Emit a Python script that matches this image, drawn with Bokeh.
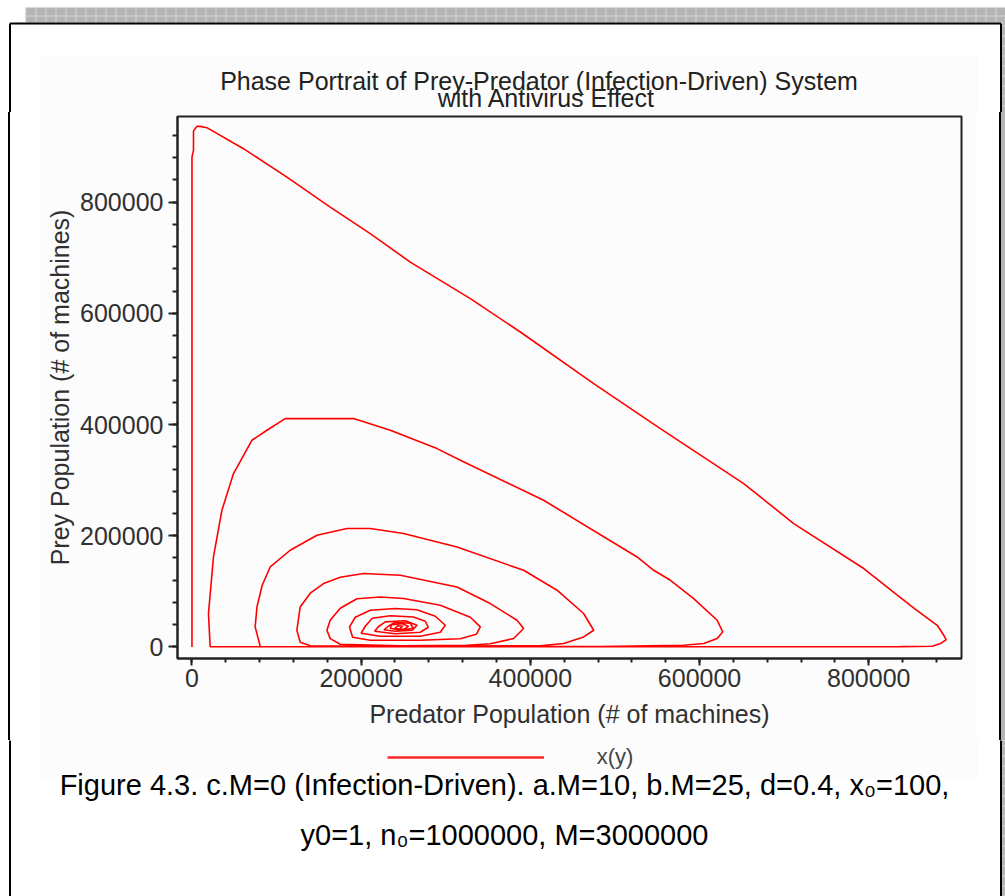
from bokeh.plotting import figure
from bokeh.layouts import column, row
from bokeh.models import (Range1d, FixedTicker, BasicTickFormatter, Label,
                          Legend, LegendItem)
from bokeh.embed import file_html
from bokeh.resources import INLINE

# ---------------- data ----------------
predator = [
    100, 100, 100, 100, 100, 1900, 1900, 5900, 9800, 17700,
    61000, 112300, 163500, 210800, 258100, 329100, 388200, 474900, 553700,
    652200, 711300, 794100, 829600, 855200, 880900, 888700, 891500, 884800,
    875000, 837500, 482800, 27600, 21600,
    19600, 25500, 35500, 49200, 70900, 88700, 110300, 191100, 234500, 289700,
    317300, 415700, 526200, 545800, 565600, 593100, 620800, 627400, 620800,
    604900, 581300, 482800, 86700, 80800,
    74800, 76900, 83100, 92600, 116200, 147800, 183300, 210800, 250200,
    313300, 392100, 431600, 463000, 474900, 463000, 439400, 411800, 246300,
    139900,
    128000, 124100, 128000, 139900, 155600, 175300, 202900, 246300, 313300,
    352700, 384300, 392100, 380300, 352700, 325200, 246300, 175300,
    163500, 159600, 163500, 175300, 195100, 222600, 250200, 293600, 329100,
    340900, 336200, 317200, 269900, 210800, 190000,
    186300, 193100, 210800, 240400, 266000, 287700, 299500, 293600, 269900,
    222600, 200000,
    204900, 213200, 234500, 261700, 275900, 279400, 269900, 240400, 216000,
    220300, 228600, 252200, 266000, 260500, 240400, 227000,
    232100, 240400, 258100, 261700, 246300, 234500, 236000, 248000, 256000,
    250000, 240000, 243000, 249000, 247000, 246300,
]
prey = [
    1, 84000, 443700, 803000, 881000, 893000, 927800, 936200, 936200, 933900,
    896100, 845100, 791100, 743300, 692200, 626400, 566400, 473600, 392700,
    293800, 221900, 141000, 98300, 67700, 38900, 20900, 13300, 6100,
    1300, 500, 300, 300, 500,
    60000, 161800, 245800, 311800, 371700, 389700, 410700, 410700, 389700,
    356700, 335700, 263800, 161800, 137900, 119900, 87000, 48000, 27000,
    15100, 6100, 3100, 700, 400, 700,
    36000, 71900, 110900, 143800, 173900, 200800, 212900, 212900, 203900,
    179800, 137900, 102000, 60100, 30000, 18000, 6100, 2200, 1300,
    2200,
    8500, 30000, 71900, 96600, 114000, 125300, 132000, 128900, 107900,
    78000, 48000, 33100, 15100, 5800, 3100, 2200, 4900,
    15000, 30000, 48000, 69600, 86700, 89900, 87000, 75000, 53400,
    36000, 22800, 14700, 12000, 12000, 17400,
    36000, 53400, 66000, 69000, 66900, 55200, 39000, 26400, 19200,
    19200, 24600,
    37200, 51600, 56100, 53900, 46200, 35400, 26400, 23700, 28200,
    36300, 45000, 47100, 39000, 30000, 28200, 30900,
    37200, 44400, 42600, 33600, 30000, 33600, 40000, 42000, 37000,
    31500, 33000, 38000, 37500, 34000, 35400,
]

x_ticks = [0, 200000, 400000, 600000, 800000]
y_ticks = [0, 200000, 400000, 600000, 800000]
x_minor = [40000 * k for k in range(0, 23)]
y_minor = [40000 * k for k in range(0, 24)]

title_line1 = "Phase Portrait of Prey-Predator (Infection-Driven) System"
title_line2 = "with Antivirus Effect"
x_label = "Predator Population (# of machines)"
y_label = "Prey Population (# of machines)"
series_name = "x(y)"
caption_line1 = "Figure 4.3. c.M=0 (Infection-Driven). a.M=10, b.M=25, d=0.4, x\u2080=100,"
caption_line2 = "y0=1, n\u2080=1000000, M=3000000"

# ---------------- page layout (pixels) ----------------
W, H = 1005, 896
PANEL_L, PANEL_R, PANEL_T, PANEL_B = 40, 977, 55, 777
FL, FR, FT, FB = 177, 961, 116, 658          # chart frame on the page
TOP_H = 112                                   # header strip height
MID_B = 740                                   # bottom of the chart figure
FONT = "Liberation Sans"
PANEL_BG = "#fcfcfc"
BAND = "#b4b4b4"
CURVE = "#ff0000"


def page_figure(x0, x1, y0, y1):
    """A figure without axes whose frame covers page region [x0,x1]x[y0,y1]."""
    f = figure(width=x1 - x0, height=y1 - y0,
               x_range=Range1d(x0, x1), y_range=Range1d(y1, y0),
               output_backend="svg", toolbar_location=None,
               x_axis_location=None, y_axis_location=None,
               min_border=0)
    f.min_border_left = f.min_border_right = 0
    f.min_border_top = f.min_border_bottom = 0
    f.grid.visible = False
    f.outline_line_color = None
    f.background_fill_color = "white"
    f.border_fill_color = "white"
    # light panel behind the pasted chart
    f.quad(left=[PANEL_L], right=[PANEL_R], top=[PANEL_T], bottom=[PANEL_B],
           fill_color=PANEL_BG, line_alpha=0)
    # hatched grey band on top and on the right edge
    f.quad(left=[25, 1001.5], right=[1006, 1006], top=[7, 22], bottom=[22, H + 10],
           fill_color=BAND, line_alpha=0,
           hatch_pattern="+", hatch_color="#d6d6d6", hatch_scale=10, hatch_weight=1)
    # black text-box frame (open at the bottom)
    f.segment(x0=[9.5, 1000.5, 9.5], y0=[23, 23, 23],
              x1=[9.5, 1000.5, 1000.5], y1=[H + 10, H + 10, 23],
              line_color="black", line_width=2)
    return f


def page_label(f, text, x, baseline, size_px, color):
    f.add_layout(Label(x=x, y=baseline - 0.35 * size_px, text=text,
                       text_align="center", text_baseline="middle",
                       text_font=FONT, text_font_size=f"{size_px}px",
                       text_color=color))


# header: band, box top, title
top = page_figure(0, W, 0, TOP_H)
page_label(top, title_line1, 538.5, 89.3, 25, "#222222")
page_label(top, title_line2, 546, 106.5, 25, "#222222")

# ---------------- the chart ----------------
p = figure(width=W, height=MID_B - TOP_H,
           x_range=Range1d(-17000, 909600), y_range=Range1d(-20800, 954000),
           output_backend="svg", toolbar_location=None,
           min_border_left=FL, min_border_right=W - FR,
           min_border_top=FT - TOP_H, min_border_bottom=MID_B - FB)
p.grid.visible = False
p.background_fill_color = PANEL_BG
p.border_fill_alpha = 0
p.outline_line_color = "#222222"
p.outline_line_width = 2
# page behind the chart: box sides, light panel, hatched right edge
p.styles = {"background": (
    "linear-gradient(to right, #ffffff 0px, #ffffff 8.5px, #000000 8.5px, "
    "#000000 10.5px, #ffffff 10.5px, #ffffff 40px, #fcfcfc 40px, #fcfcfc 977px, "
    "#ffffff 977px, #ffffff 999.5px, #000000 999.5px, #000000 1001.5px, "
    "#b4b4b4 1001.5px, #b4b4b4 1005px)")}

for ax, ticks, minor in ((p.xaxis[0], x_ticks, x_minor), (p.yaxis[0], y_ticks, y_minor)):
    ax.ticker = FixedTicker(ticks=ticks, minor_ticks=minor)
    ax.formatter = BasicTickFormatter(use_scientific=False)
    ax.axis_line_color = "#222222"
    ax.axis_line_width = 2
    ax.major_tick_line_color = "#222222"
    ax.major_tick_line_width = 2
    ax.minor_tick_line_color = "#222222"
    ax.minor_tick_line_width = 2
    ax.major_tick_in = 0
    ax.minor_tick_in = 0
    ax.major_label_text_font = FONT
    ax.major_label_text_font_size = "25px"
    ax.major_label_text_color = "#303030"
    ax.axis_label_text_font = FONT
    ax.axis_label_text_font_size = "25px"
    ax.axis_label_text_font_style = "normal"
    ax.axis_label_text_color = "#303030"

p.xaxis.major_tick_out = 7
p.xaxis.minor_tick_out = 4
p.xaxis.major_label_standoff = 3
p.xaxis.axis_label = x_label
p.xaxis.axis_label_standoff = 10
p.yaxis.major_tick_out = 9
p.yaxis.minor_tick_out = 5
p.yaxis.major_label_standoff = 5
p.yaxis.axis_label = y_label
p.yaxis.axis_label_standoff = 3

curve = p.line(predator, prey, line_color=CURVE, line_width=1.6)

# ---------------- bottom: legend + caption ----------------
bottom = page_figure(0, W, MID_B, H)
# key glyph for the legend (same series style; holds no visible point here)
legend_key = bottom.line(x=[float("nan")], y=[float("nan")],
                         line_color=CURVE, line_width=2.5, line_alpha=0.85)
legend = Legend(items=[LegendItem(label=series_name, renderers=[legend_key])],
                location=(386.7, H - 770),
                background_fill_alpha=0, border_line_alpha=0,
                padding=0, margin=0, spacing=0,
                glyph_width=157, glyph_height=22, label_height=22,
                label_standoff=53, label_text_font=FONT,
                label_text_font_size="22px", label_text_color="#444444")
bottom.add_layout(legend)
page_label(bottom, caption_line1, 504, 795, 29, "black")
page_label(bottom, caption_line2, 504, 845, 29, "black")

# the chart sits in its own row so that its frame is not aligned with the strips
layout = column(top, row(p), bottom)
open("out.html", "w").write(file_html(layout, INLINE))
